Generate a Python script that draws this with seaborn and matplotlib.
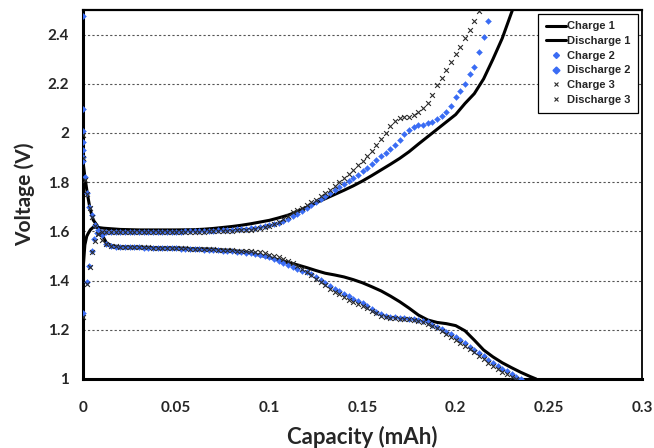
import numpy as np
import matplotlib
matplotlib.use("Agg")
import matplotlib.pyplot as plt
from matplotlib.lines import Line2D
from matplotlib.ticker import FuncFormatter
import seaborn as sns

# ---- cycle 1 (continuous traces) ----
charge1_cap = [0, 0.001, 0.002, 0.0028, 0.004, 0.0055, 0.008, 0.011,
               0.02, 0.03, 0.04, 0.05, 0.06, 0.065, 0.07, 0.075, 0.08, 0.085, 0.09, 0.095,
               0.1, 0.105, 0.11, 0.115, 0.12, 0.125, 0.13, 0.135, 0.14, 0.145, 0.15, 0.155,
               0.16, 0.165, 0.17, 0.175, 0.18, 0.185, 0.19, 0.195, 0.2, 0.205, 0.21, 0.215,
               0.22, 0.225, 0.23, 0.2305]
charge1_v = [1.443, 1.545, 1.58, 1.592, 1.607, 1.617, 1.616, 1.613,
             1.608, 1.606, 1.606, 1.606, 1.607, 1.609, 1.612, 1.616, 1.620, 1.625, 1.631, 1.638,
             1.645, 1.655, 1.666, 1.680, 1.698, 1.716, 1.733, 1.750, 1.767, 1.785, 1.805, 1.827,
             1.850, 1.873, 1.897, 1.924, 1.955, 1.985, 2.015, 2.045, 2.075, 2.12, 2.16, 2.22,
             2.30, 2.385, 2.49, 2.5]

discharge1_cap = [0, 0.001, 0.0023, 0.0037, 0.0055, 0.0075, 0.009, 0.011, 0.0127, 0.016,
                  0.02, 0.03, 0.04, 0.05, 0.06, 0.07, 0.08, 0.085, 0.09, 0.095,
                  0.1, 0.105, 0.11, 0.115, 0.12, 0.125, 0.13, 0.135, 0.14, 0.145, 0.15, 0.155,
                  0.16, 0.165, 0.17, 0.175, 0.18, 0.185, 0.19, 0.195, 0.2, 0.205, 0.21, 0.215,
                  0.22, 0.225, 0.23, 0.235, 0.24, 0.2432]
discharge1_v = [1.883, 1.822, 1.755, 1.695, 1.646, 1.625, 1.605, 1.575, 1.552, 1.540,
                1.537, 1.535, 1.534, 1.532, 1.530, 1.527, 1.522, 1.518, 1.512, 1.503,
                1.494, 1.484, 1.474, 1.464, 1.453, 1.441, 1.430, 1.423, 1.415, 1.404, 1.391, 1.375,
                1.358, 1.337, 1.314, 1.288, 1.260, 1.240, 1.230, 1.225, 1.217, 1.196, 1.158, 1.118,
                1.090, 1.066, 1.046, 1.027, 1.010, 1.0]

# ---- cycles 2 and 3 (logged points) ----
# first seconds of each step, then points logged every STEP mAh
STEP = 0.0025

charge2_head_cap = [0.0, 0.0021, 0.0033, 0.0049, 0.006, 0.0075]
charge2_head_v = [1.268, 1.394, 1.459, 1.520, 1.569, 1.594]
charge2_start = 0.01
charge2_v = [1.598, 1.598, 1.598, 1.598, 1.598, 1.598, 1.598, 1.598, 1.598, 1.598,
             1.598, 1.598, 1.598, 1.598, 1.599, 1.599, 1.599, 1.599, 1.600, 1.600,
             1.600, 1.601, 1.601, 1.602, 1.603, 1.604, 1.605, 1.606, 1.607, 1.608,
             1.610, 1.611, 1.613, 1.615, 1.617, 1.620, 1.624, 1.629, 1.636, 1.643,
             1.652, 1.661, 1.672, 1.684, 1.697, 1.709, 1.720, 1.732, 1.745, 1.756,
             1.768, 1.779, 1.791, 1.803, 1.816, 1.831, 1.845, 1.859, 1.874, 1.890,
             1.905, 1.920, 1.936, 1.952, 1.973, 1.995, 2.013, 2.025, 2.031, 2.034,
             2.040, 2.045, 2.055, 2.068, 2.085, 2.110, 2.145, 2.170, 2.200, 2.240,
             2.270, 2.330, 2.390, 2.455]

discharge2_head_cap = [0.0, 0.0, 0.0, 0.0, 0.0, 0.0, 0.0, 0.0012, 0.0023, 0.0034,
                       0.0047, 0.0064, 0.0082, 0.01]
discharge2_head_v = [2.476, 2.096, 2.009, 1.965, 1.931, 1.904, 1.887, 1.820, 1.755, 1.700,
                     1.667, 1.626, 1.605, 1.585]
discharge2_start = 0.0125
discharge2_v = [1.550, 1.541, 1.538, 1.537, 1.536, 1.536, 1.535, 1.535, 1.534, 1.534,
                1.533, 1.533, 1.532, 1.532, 1.531, 1.531, 1.530, 1.530, 1.529, 1.528,
                1.527, 1.526, 1.525, 1.524, 1.523, 1.522, 1.521, 1.519, 1.517, 1.515,
                1.513, 1.511, 1.508, 1.505, 1.500, 1.494, 1.487, 1.480, 1.472, 1.464,
                1.457, 1.449, 1.441, 1.433, 1.425, 1.416, 1.404, 1.390, 1.378, 1.367,
                1.357, 1.346, 1.336, 1.326, 1.317, 1.308, 1.298, 1.284, 1.272, 1.263,
                1.257, 1.253, 1.250, 1.248, 1.246, 1.244, 1.243, 1.241, 1.237, 1.230,
                1.221, 1.212, 1.202, 1.192, 1.181, 1.170, 1.157, 1.145, 1.132, 1.118,
                1.105, 1.092, 1.078, 1.064, 1.052, 1.041, 1.031, 1.020, 1.009, 1.000]

charge3_head_cap = [0.0, 0.002, 0.0035, 0.005, 0.0065, 0.008]
charge3_head_v = [1.253, 1.388, 1.455, 1.515, 1.562, 1.590]
charge3_start = 0.01
charge3_v = [1.597, 1.597, 1.597, 1.597, 1.597, 1.597, 1.597, 1.597, 1.597, 1.597,
             1.597, 1.597, 1.597, 1.597, 1.597, 1.598, 1.598, 1.598, 1.598, 1.598,
             1.598, 1.599, 1.599, 1.600, 1.600, 1.601, 1.601, 1.602, 1.603, 1.604,
             1.605, 1.606, 1.607, 1.609, 1.612, 1.616, 1.622, 1.630, 1.640, 1.651,
             1.664, 1.677, 1.688, 1.697, 1.707, 1.718, 1.729, 1.742, 1.757, 1.770,
             1.785, 1.800, 1.817, 1.833, 1.850, 1.870, 1.887, 1.906, 1.927, 1.950,
             1.975, 2.000, 2.027, 2.050, 2.060, 2.065, 2.067, 2.073, 2.085, 2.100,
             2.122, 2.155, 2.195, 2.225, 2.255, 2.290, 2.320, 2.350, 2.385, 2.420,
             2.455, 2.495]

discharge3_head_cap = [0.0, 0.0, 0.0012, 0.0024, 0.0036, 0.005, 0.0066, 0.0083, 0.01]
discharge3_head_v = [1.990, 1.900, 1.810, 1.750, 1.695, 1.660, 1.620, 1.590, 1.565]
discharge3_start = 0.0125
discharge3_v = [1.548, 1.540, 1.539, 1.538, 1.537, 1.537, 1.536, 1.536, 1.535, 1.535,
                1.534, 1.534, 1.533, 1.533, 1.532, 1.532, 1.531, 1.531, 1.530, 1.530,
                1.529, 1.528, 1.527, 1.527, 1.526, 1.525, 1.524, 1.523, 1.522, 1.521,
                1.520, 1.519, 1.517, 1.515, 1.511, 1.506, 1.500, 1.494, 1.488, 1.481,
                1.472, 1.461, 1.449, 1.436, 1.422, 1.408, 1.394, 1.381, 1.367, 1.355,
                1.344, 1.333, 1.323, 1.314, 1.305, 1.296, 1.287, 1.277, 1.267, 1.258,
                1.252, 1.249, 1.247, 1.245, 1.244, 1.243, 1.241, 1.237, 1.232, 1.225,
                1.216, 1.206, 1.195, 1.184, 1.172, 1.160, 1.148, 1.135, 1.122, 1.108,
                1.094, 1.080, 1.066, 1.052, 1.040, 1.030, 1.019, 1.009, 1.000]

x_ticks = [0, 0.05, 0.1, 0.15, 0.2, 0.25, 0.3]
y_ticks = [1, 1.2, 1.4, 1.6, 1.8, 2, 2.2, 2.4]


def logged(head_cap, head_v, start, body_v):
    cap = list(head_cap) + [start + i * STEP for i in range(len(body_v))]
    return np.array(cap), np.array(list(head_v) + list(body_v))


sns.set_style("white")
plt.rcParams["font.family"] = ["Lato", "DejaVu Sans"]

BLUE = "#3a6cf4"
XGREY = "#2b2b2b"

fig = plt.figure(figsize=(6.54, 4.48), dpi=100)
ax = fig.add_axes([83 / 654, 69 / 448, 559 / 654, 369 / 448])

sns.lineplot(x=charge1_cap, y=charge1_v, sort=False, estimator=None, color="black",
             linewidth=2.2, ax=ax, legend=False, zorder=3)
sns.lineplot(x=discharge1_cap, y=discharge1_v, sort=False, estimator=None, color="black",
             linewidth=2.2, ax=ax, legend=False, zorder=3)

for head_cap, head_v, start, body in [
        (charge2_head_cap, charge2_head_v, charge2_start, charge2_v),
        (discharge2_head_cap, discharge2_head_v, discharge2_start, discharge2_v)]:
    c, v = logged(head_cap, head_v, start, body)
    sns.scatterplot(x=c, y=v, marker="D", s=9, color=BLUE, edgecolor=BLUE,
                    linewidth=0.3, ax=ax, legend=False, zorder=4)

for head_cap, head_v, start, body in [
        (charge3_head_cap, charge3_head_v, charge3_start, charge3_v),
        (discharge3_head_cap, discharge3_head_v, discharge3_start, discharge3_v)]:
    c, v = logged(head_cap, head_v, start, body)
    sns.scatterplot(x=c, y=v, marker="x", s=12, color=XGREY, linewidth=0.8,
                    ax=ax, legend=False, zorder=5)

ax.set_xlim(0, 0.3)
ax.set_ylim(1, 2.5)
ax.set_xticks(x_ticks)
ax.set_yticks(y_ticks)
fmt = FuncFormatter(lambda v, _: f"{v:g}")
ax.xaxis.set_major_formatter(fmt)
ax.yaxis.set_major_formatter(fmt)
ax.tick_params(axis="both", direction="out", color="black", width=1.3, labelsize=11)
ax.tick_params(axis="x", length=4, pad=12)
ax.tick_params(axis="y", length=5, pad=5)
for lab in ax.get_xticklabels() + ax.get_yticklabels():
    lab.set_fontweight("bold")

ax.yaxis.grid(True, linestyle=(0, (2, 2)), color="#555555", linewidth=0.8)
ax.xaxis.grid(False)
ax.set_axisbelow(True)
for side in ["left", "bottom", "top", "right"]:
    ax.spines[side].set_visible(True)
    ax.spines[side].set_color("black")
ax.spines["left"].set_linewidth(2.2)
ax.spines["bottom"].set_linewidth(2.2)
ax.spines["top"].set_linewidth(1.6)
ax.spines["right"].set_linewidth(1.3)

ax.set_xlabel("Capacity (mAh)", fontsize=16, fontweight="bold", labelpad=8)
ax.set_ylabel("Voltage (V)", fontsize=15, fontweight="bold", labelpad=9)

handles = [
    Line2D([], [], color="black", linewidth=2.2),
    Line2D([], [], color="black", linewidth=2.2),
    Line2D([], [], color=BLUE, marker="D", markersize=3, linestyle=""),
    Line2D([], [], color=BLUE, marker="D", markersize=3.5, linestyle=""),
    Line2D([], [], color=XGREY, marker="x", markersize=3.5, markeredgewidth=0.8, linestyle=""),
    Line2D([], [], color=XGREY, marker="x", markersize=3.5, markeredgewidth=0.8, linestyle=""),
]
labels = ["Charge 1", "Discharge 1", "Charge 2", "Discharge 2", "Charge 3", "Discharge 3"]
leg = ax.legend(handles, labels, loc="upper right", bbox_to_anchor=(0.993, 0.99),
                borderaxespad=0, frameon=True, fancybox=False, framealpha=1,
                edgecolor="black", handlelength=1.8, handletextpad=0.1,
                labelspacing=0.42, borderpad=0.7,
                prop={"family": ["Liberation Sans", "DejaVu Sans"], "weight": "bold", "size": 8})
leg.get_frame().set_linewidth(0.9)

fig.savefig("out.png", dpi=100)
